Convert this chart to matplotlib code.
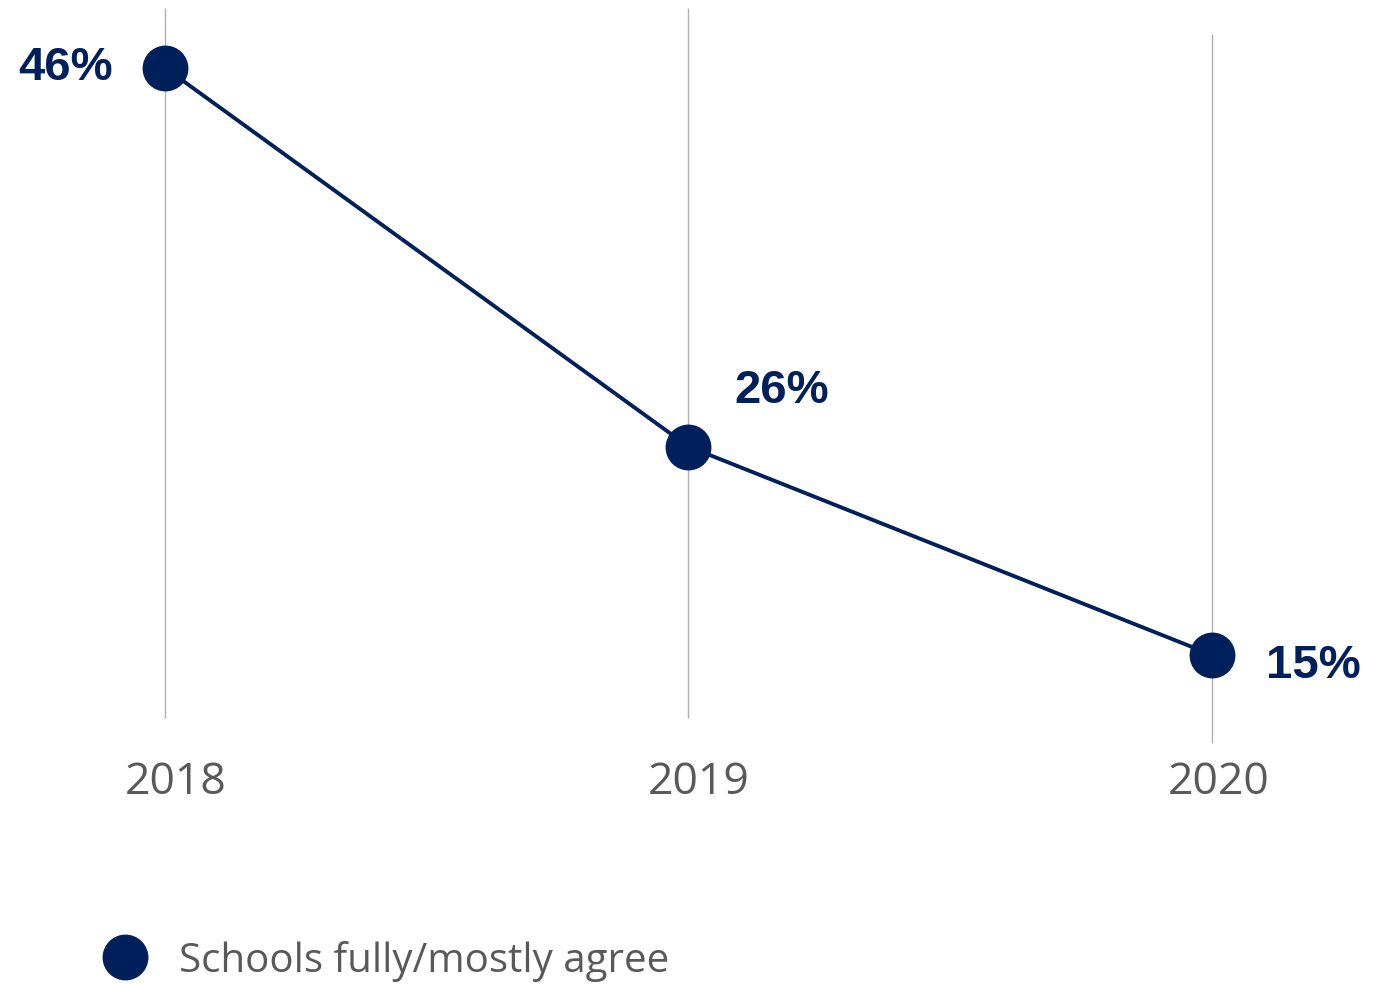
import matplotlib.pyplot as plt
from matplotlib.lines import Line2D

years = ["2018", "2019", "2020"]
agree = [46, 26, 15]
series_name = "Schools fully/mostly agree"

navy = "#00205B"
grey_text = "#595959"

fig = plt.figure(figsize=(13.84, 9.84), dpi=100)
ax = fig.add_axes([0, 0, 1, 1])
ax.set_xlim(-0.3152, 2.3286)
ax.set_ylim(-2.376, 49.58)
ax.axis("off")

x = list(range(len(years)))

# category gridlines (the last one sits a bit lower)
grid_spans = [(11.67, 49.16), (11.67, 49.16), (10.35, 47.78)]
for i, (lo, hi) in enumerate(grid_spans):
    ax.vlines(i, lo, hi, color="#b0b0b0", lw=1.0, zorder=1)

ax.plot(x, agree, color=navy, lw=2.8, marker="o", ms=32, zorder=3)

# value labels
offsets = [(-0.10, 0.0, "right"), (0.087, 2.95, "left"), (0.104, -0.6, "left")]
for i, v in enumerate(agree):
    dx, dy, ha = offsets[i]
    ax.text(i + dx, v + dy, f"{v}%", ha=ha, va="center", fontsize=34,
            fontweight="bold", color=navy, family="Liberation Sans")

# year labels under the gridlines
label_dx = [0.02, 0.02, 0.013]
for i, yr in enumerate(years):
    ax.text(i + label_dx[i], 8.25, yr, ha="center", va="center", fontsize=32,
            color=grey_text, family="Open Sans")

handle = Line2D([], [], ls="none", marker="o", ms=32, color=navy)
fig.legend([handle], [series_name], loc="center left",
           bbox_to_anchor=(0.047, 1 - 961 / 984), frameon=False,
           prop={"family": "Open Sans", "size": 29}, labelcolor=grey_text,
           handletextpad=0.72, handlelength=1.2)

fig.savefig("out.png", dpi=100)
